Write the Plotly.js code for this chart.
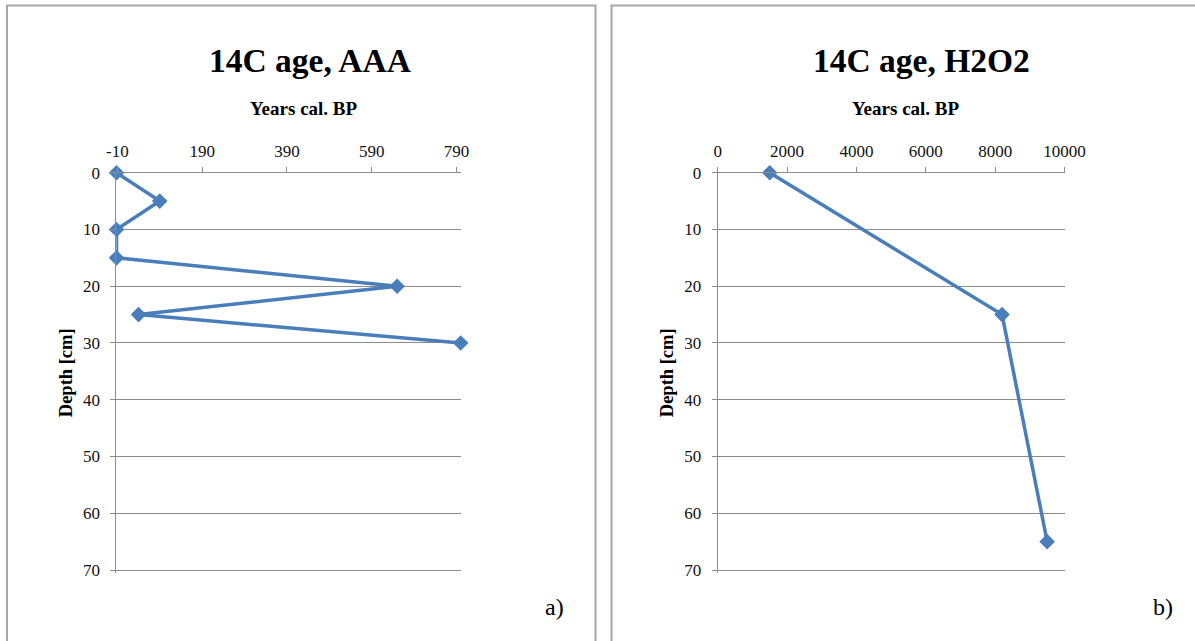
<!DOCTYPE html>
<html>
<head>
<meta charset="utf-8">
<script src="https://cdn.plot.ly/plotly-3.0.1.min.js"></script>
<style>
  html, body { margin: 0; padding: 0; background: #ffffff; }
  #chart { width: 1195px; height: 641px; }
</style>
</head>
<body>
<div id="chart"></div>
<script>
// Sample depths (cm) and calibrated ages (years cal. BP)
const depthAAA = [0, 5, 10, 15, 20, 25, 30];
const ageAAA   = [-12, 90, -12, -12, 650, 40, 800];

const depthH2O2 = [0, 25, 65];
const ageH2O2   = [1500, 8200, 9500];

// Tick positions and their printed labels
const ticksAAA      = [-10, 190, 390, 590, 790];
const tickTextAAA   = ['-10', '190', '390', '590', '790'];
const ticksH2O2     = [0, 2000, 4000, 6000, 8000, 10000];
const tickTextH2O2  = ['0', '2000', '4000', '6000', '8000', '10000'];
const depthTicks    = [0, 10, 20, 30, 40, 50, 60, 70];

const titleAAA  = '14C age, AAA';
const titleH2O2 = '14C age, H2O2';
const xTitle    = 'Years cal. BP';
const yTitle    = 'Depth [cm]';
const panelTags = ['a)', 'b)'];

const W = 1195, H = 641;
const px = v => v / W;          // horizontal pixel -> paper fraction
const py = v => 1 - v / H;      // vertical pixel (from top) -> paper fraction

const serif = 'Liberation Serif, Times New Roman, serif';
const blue = '#4a7ebb';
const grey = '#8c8c8c';

const series = (x, y, xa, ya) => ({
  x: x, y: y, xaxis: xa, yaxis: ya,
  type: 'scatter', mode: 'lines+markers',
  line: { color: blue, width: 3.5 },
  marker: { symbol: 'diamond', size: 12, color: blue },
  cliponaxis: false,
  showlegend: false,
  hoverinfo: 'x+y'
});

const xAxisBase = {
  side: 'top',
  tickmode: 'array',
  showline: true, linecolor: grey, linewidth: 1,
  ticks: 'outside', ticklen: 5, tickcolor: grey, tickwidth: 1,
  ticklabelstandoff: 3,
  showgrid: false, zeroline: false,
  tickfont: { family: serif, size: 17, color: '#111' }
};

const yAxisBase = {
  // runs a little past 70 so the 70 cm gridline stays inside the plot
  range: [70.5, 0],
  tickmode: 'array', tickvals: depthTicks, ticktext: depthTicks.map(String),
  showline: true, linecolor: grey, linewidth: 1,
  ticks: 'outside', ticklen: 5, tickcolor: grey, tickwidth: 1,
  ticklabelstandoff: 7,
  showgrid: true, gridcolor: grey, gridwidth: 1,
  zeroline: false,
  domain: [py(572.85), py(172.7)],
  tickfont: { family: serif, size: 17, color: '#111' },
  title: { text: yTitle, font: { family: serif, size: 18.5, color: '#000', weight: 'bold' }, standoff: 5 }
};

const note = (text, x, y, size) => ({
  text: text, xref: 'paper', yref: 'paper', x: px(x), y: py(y),
  xanchor: 'center', yanchor: 'middle', showarrow: false,
  font: { family: serif, size: size, color: '#000' }
});

const layout = {
  width: W, height: H,
  margin: { l: 0, r: 0, t: 0, b: 0 },
  paper_bgcolor: '#ffffff', plot_bgcolor: 'rgba(0,0,0,0)',
  xaxis: Object.assign({}, xAxisBase, {
    domain: [px(116.3), px(460.7)], range: [-12.5, 800],
    tickvals: ticksAAA, ticktext: tickTextAAA, anchor: 'y'
  }),
  yaxis: Object.assign({}, yAxisBase, { anchor: 'x' }),
  xaxis2: Object.assign({}, xAxisBase, {
    domain: [px(717.7), px(1064.5)], range: [0, 10000],
    tickvals: ticksH2O2, ticktext: tickTextH2O2, anchor: 'y2'
  }),
  yaxis2: Object.assign({}, yAxisBase, { anchor: 'x2' }),
  shapes: [
    { type: 'rect', xref: 'paper', yref: 'paper', x0: px(7), x1: px(595.5), y0: -0.05, y1: py(5.5),
      line: { color: '#a6a6a6', width: 2 }, fillcolor: 'rgba(0,0,0,0)', layer: 'below' },
    { type: 'rect', xref: 'paper', yref: 'paper', x0: px(611.5), x1: 1.05, y0: -0.05, y1: py(5.5),
      line: { color: '#a6a6a6', width: 2 }, fillcolor: 'rgba(0,0,0,0)', layer: 'below' }
  ],
  annotations: [
    note('<b>' + titleAAA + '</b>', 310, 60, 33.5),
    note('<b>' + titleH2O2 + '</b>', 921, 60, 33.5),
    note('<b>' + xTitle + '</b>', 303.5, 108, 19),
    note('<b>' + xTitle + '</b>', 906, 108, 19),
    note(panelTags[0], 554, 607, 24),
    note(panelTags[1], 1163, 607, 24)
  ]
};

Plotly.newPlot('chart', [
  series(ageAAA, depthAAA, 'x', 'y'),
  series(ageH2O2, depthH2O2, 'x2', 'y2')
], layout, { displayModeBar: false, staticPlot: true });
</script>
</body>
</html>
